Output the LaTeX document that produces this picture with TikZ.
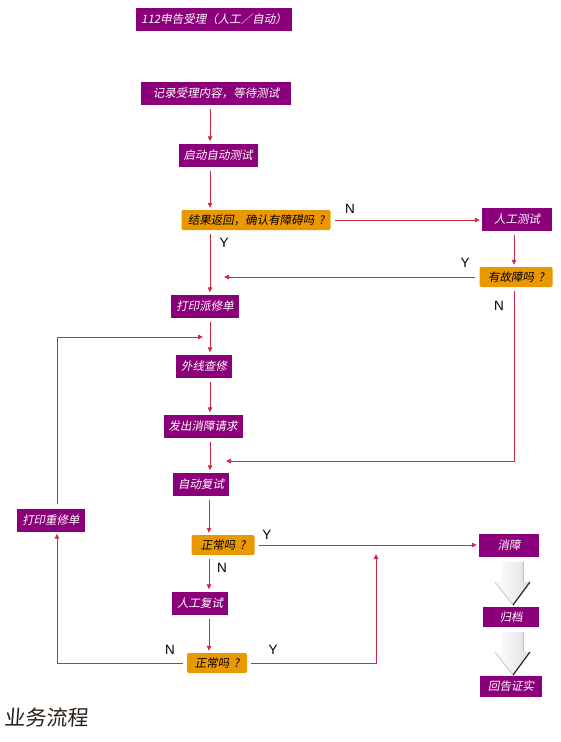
\documentclass[tikz,border=0pt]{standalone}
\usepackage{fontspec}
\setsansfont{Liberation Sans}
\newfontfamily\cjk[FakeSlant=0.18]{Noto Sans CJK SC}
\newfontfamily\cjktitle[FakeSlant=0.08]{Noto Sans CJK SC}
\usetikzlibrary{arrows.meta,calc}
\definecolor{boxpurple}{RGB}{139,0,122}
\definecolor{askorange}{RGB}{234,152,0}
\definecolor{flowred}{RGB}{206,40,72}

\begin{document}
\begin{tikzpicture}[x=1pt,y=-1pt,>={Triangle[length=5pt,width=4.5pt]},
  task/.style={fill=boxpurple, text=white, font=\cjk\fontsize{11.5}{13}\selectfont,
    minimum height=23pt, inner xsep=5pt, inner ysep=2pt},
  ask/.style={fill=askorange, rounded corners=2pt, text=black, font=\cjk\fontsize{11.5}{13}\selectfont,
    minimum height=20pt, inner xsep=5pt, inner ysep=2pt},
  flow/.style={flowred, line width=0.8pt, ->, shorten <=4pt, shorten >=2pt},
  yn/.style={font=\sffamily\fontsize{13.5}{14}\selectfont}]
\useasboundingbox (0,0) rectangle (561,742);

% boxes
\node[task] (top) at (214,19) {112申告受理（人工／自动）};
\node[task, minimum width=150pt] (rec) at (216,93) {记录受理内容，等待测试};
\node[task] (auto) at (218,155) {启动自动测试};
\node[ask, minimum width=149pt] (chk) at (256,220) {结果返回，确认有障碍吗\ \,?};
\node[task, minimum width=70pt] (man) at (517,219) {人工测试};
\node[ask, minimum width=73pt] (flt) at (516,277) {有故障吗\ \,?};
\node[task] (disp) at (205,306) {打印派修单};
\node[task] (ext) at (204,366) {外线查修};
\node[task] (req) at (203,426) {发出消障请求};
\node[task] (retest) at (201,484) {自动复试};
\node[task] (reprint) at (51,520) {打印重修单};
\node[ask, minimum width=63pt] (ok1) at (223,545) {正常吗\ \,?};
\node[task] (mre) at (200,603) {人工复试};
\node[ask, minimum width=60pt] (ok2) at (217,663) {正常吗\ \,?};
\node[task, minimum width=60pt] (clr) at (509,545) {消障};
\node[task, minimum width=56pt, minimum height=20pt] (arch) at (511,617) {归档};
\node[task, minimum width=62pt, minimum height=21pt] (conf) at (511,686) {回告证实};
\node[anchor=west, text={rgb,255:red,40;green,30;blue,20}, font=\cjktitle\fontsize{21}{24}\selectfont,
  inner sep=0pt] (title) at (4,717) {业务流程};

% help points
\coordinate (spine) at (210,0);
\coordinate (spine2) at (209,0);
\coordinate (rside) at (514,0);
\coordinate (lside) at (57,0);
\coordinate (yback) at (222,277);
\coordinate (nback) at (224,461);
\coordinate (loopin) at (205,337);
\coordinate (yjoin) at (376,552);

% connectors
\draw[flow] (rec.south -| spine) -- (auto.north -| spine);
\draw[flow] (auto.south -| spine) -- (chk.north -| spine);
\draw[flow] (chk.east) -- (chk.east -| man.west);
\draw[flow] (man.south -| rside) -- (flt.north -| rside);
\draw[flow] (flt.west) -- (flt.west -| yback);
\draw[flow] (chk.south -| spine) -- (disp.north -| spine);
\draw[flow] (disp.south -| spine) -- (ext.north -| spine);
\draw[flow] (reprint.north -| lside) -- (lside |- loopin) -- (loopin);
\draw[flow] (ext.south -| spine) -- (req.north -| spine);
\draw[flow] (req.south -| spine) -- (retest.north -| spine);
\draw[flow] (flt.south -| rside) -- (rside |- nback) -- (nback);
\draw[flow] (retest.south -| spine2) -- (ok1.north -| spine2);
\draw[flow] (ok1.east) -- (ok1.east -| clr.west);
\draw[flow] (ok1.south -| spine2) -- (mre.north -| spine2);
\draw[flow] (mre.south -| spine2) -- (ok2.north -| spine2);
\draw[flow] (ok2.west) -- (ok2.west -| lside) -- (reprint.south -| lside);
\draw[flow] (ok2.east) -- (ok2.east -| yjoin) -- (yjoin);

% Y / N
\node[yn] (n1) at (350,209) {N};
\node[yn] (y1) at (224,243) {Y};
\node[yn] (y2) at (465,263) {Y};
\node[yn] (n2) at (499,306) {N};
\node[yn] (y3) at (267,535) {Y};
\node[yn] (n3) at (222,568) {N};
\node[yn] (n4) at (170,650) {N};
\node[yn] (y4) at (273,650) {Y};

% big arrows
\foreach \t/\m/\b in {562/582/605, 632/652/675} {
  \shade[left color=white, right color=gray!25]
    (501,\t) -- (523,\t) -- (523,\m) -- (530,\m) -- (513,\b) -- (495,\m) -- (501,\m) -- cycle;
  \draw[gray!55, line width=0.6pt] (495,\m) -- (513,\b);
  \draw[black!75!brown, line width=1.2pt] (530,\m) -- (513,\b);
  \draw[gray!50, line width=0.8pt] (523,\t) -- (523,\m);
}
\end{tikzpicture}
\end{document}
